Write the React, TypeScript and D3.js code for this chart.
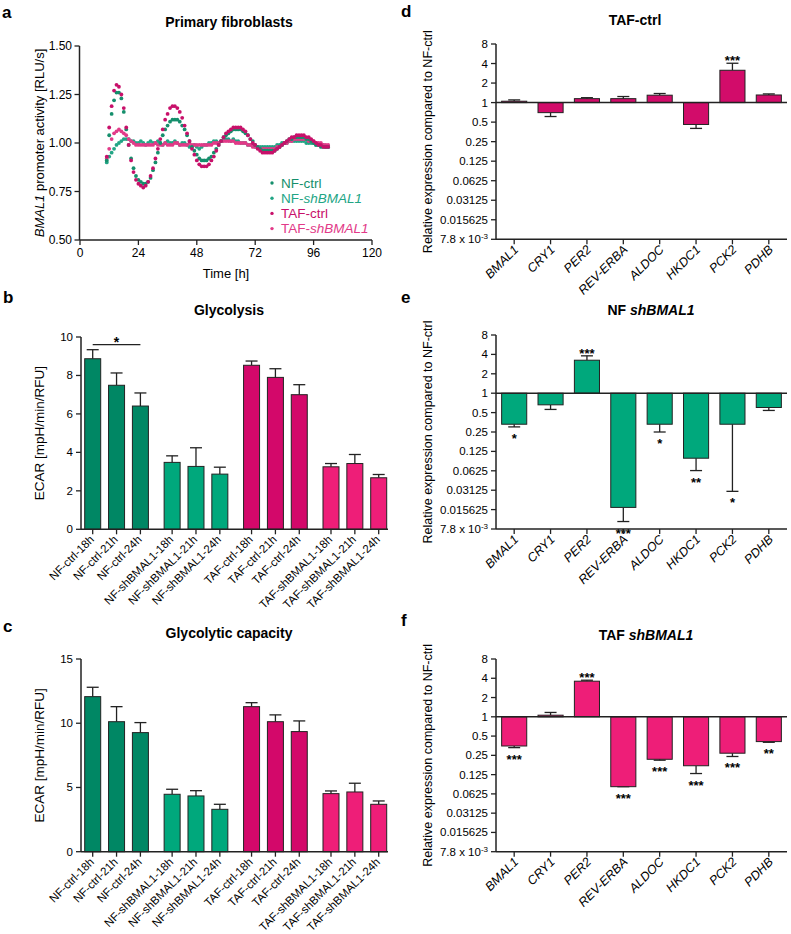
import React from "react";
import * as d3 from "d3";

const FONT = "'Liberation Sans', Arial, Helvetica, sans-serif";

// ---------- Panel a: bioluminescence time series (1 h sampling) ----------
const hours = d3.range(11, 103);
const nfCtrl = [
  0.91, 1.04, 1.15, 1.22, 1.26, 1.26, 1.23, 1.16, 1.07, 0.99,
  0.92, 0.87, 0.83, 0.81, 0.8, 0.79, 0.79, 0.8, 0.82, 0.86,
  0.9, 0.95, 1.0, 1.04, 1.07, 1.09, 1.11, 1.12, 1.12, 1.12,
  1.11, 1.09, 1.07, 1.04, 1.01, 0.98, 0.96, 0.94, 0.92, 0.91,
  0.91, 0.91, 0.92, 0.93, 0.95, 0.97, 0.99, 1.01, 1.03, 1.04,
  1.05, 1.06, 1.07, 1.07, 1.07, 1.07, 1.06, 1.05, 1.04, 1.02,
  1.01, 0.99, 0.98, 0.97, 0.96, 0.96, 0.96, 0.96, 0.96, 0.96,
  0.97, 0.98, 0.99, 1.0, 1.01, 1.02, 1.02, 1.03, 1.03, 1.03,
  1.03, 1.03, 1.02, 1.02, 1.01, 1.0, 0.99, 0.99, 0.98, 0.98,
  0.98, 0.98,
];
const nfSh = [
  0.9, 0.93, 0.95, 0.97, 0.99, 1.0, 1.01, 1.02, 1.02, 1.02,
  1.01, 1.01, 1.0, 1.0, 1.01, 1.0, 0.99, 1.0, 1.01, 1.0,
  1.0, 1.01, 1.0, 0.99, 1.0, 1.01, 1.0, 1.0, 1.01, 1.0,
  0.99, 1.0, 1.0, 0.99, 0.98, 0.98, 0.99, 0.98, 0.97, 0.98,
  0.99, 0.99, 1.0, 1.0, 1.01, 1.01, 1.0, 1.01, 1.02, 1.02,
  1.02, 1.01, 1.02, 1.01, 1.01, 1.0, 1.0, 1.0, 0.99, 0.99,
  0.99, 0.98, 0.98, 0.98, 0.98, 0.98, 0.98, 0.98, 0.98, 0.98,
  0.99, 0.99, 1.0, 1.0, 1.0, 1.01, 1.01, 1.01, 1.01, 1.01,
  1.01, 1.01, 1.0, 1.0, 1.0, 1.0, 0.99, 0.99, 0.99, 0.99,
  0.98, 0.98,
];
const tafCtrl = [
  0.93, 1.08, 1.19, 1.27, 1.3, 1.29, 1.25, 1.18, 1.08, 0.99,
  0.91, 0.85, 0.81, 0.79, 0.78, 0.77, 0.78, 0.8, 0.83, 0.87,
  0.92, 0.97, 1.02, 1.07, 1.12, 1.15, 1.18, 1.19, 1.19, 1.18,
  1.16, 1.13, 1.09, 1.05, 1.01, 0.97, 0.94, 0.91, 0.89, 0.88,
  0.88, 0.88, 0.89, 0.91, 0.93, 0.96, 0.99, 1.01, 1.03, 1.05,
  1.06, 1.07, 1.08, 1.08, 1.08, 1.08, 1.07, 1.06, 1.04, 1.02,
  1.0, 0.99, 0.97, 0.96, 0.95, 0.95, 0.95, 0.95, 0.95, 0.96,
  0.97, 0.98, 0.99, 1.0, 1.01, 1.02, 1.03, 1.03, 1.04, 1.04,
  1.04, 1.04, 1.03, 1.03, 1.02, 1.01, 1.0, 0.99, 0.99, 0.98,
  0.98, 0.98,
];
const tafSh = [
  0.92, 0.97, 1.02, 1.05, 1.06, 1.07, 1.06, 1.05, 1.04, 1.02,
  1.01, 1.0, 0.99, 0.99, 0.99, 0.99, 0.99, 0.99, 0.99, 0.99,
  1.0, 0.99, 0.99, 0.99, 1.0, 0.99, 0.99, 0.99, 1.0, 1.0,
  0.99, 0.99, 0.99, 0.99, 1.0, 0.99, 0.99, 0.99, 0.99, 0.99,
  0.99, 0.99, 0.99, 0.99, 1.0, 1.0, 1.0, 1.01, 1.01, 1.01,
  1.01, 1.01, 1.01, 1.0, 1.0, 1.0, 1.0, 1.0, 0.99, 0.99,
  0.98, 0.98, 0.98, 0.97, 0.97, 0.97, 0.97, 0.97, 0.97, 0.97,
  0.98, 0.98, 0.99, 1.0, 1.0, 1.01, 1.01, 1.02, 1.02, 1.02,
  1.02, 1.02, 1.02, 1.01, 1.01, 1.01, 1.0, 1.0, 1.0, 0.99,
  0.99, 0.99,
];
const seriesNames = ["NF-ctrl", "NF-shBMAL1", "TAF-ctrl", "TAF-shBMAL1"];
const seriesColors = ["#158f6c", "#22a585", "#c8106a", "#e23a88"];
const timeTicks = [0, 24, 48, 72, 96, 120];
const activityTicks = [0.5, 0.75, 1.0, 1.25, 1.5];

// ---------- Panels b, c: ECAR bars ----------
const barLabels = [
  "NF-ctrl-18h", "NF-ctrl-21h", "NF-ctrl-24h",
  "NF-shBMAL1-18h", "NF-shBMAL1-21h", "NF-shBMAL1-24h",
  "TAF-ctrl-18h", "TAF-ctrl-21h", "TAF-ctrl-24h",
  "TAF-shBMAL1-18h", "TAF-shBMAL1-21h", "TAF-shBMAL1-24h",
];
const barGroup = [0, 0, 0, 1, 1, 1, 2, 2, 2, 3, 3, 3];
const groupColors = ["#008764", "#00a87c", "#d3086a", "#ee1e78"];
const glycolysisMean = [8.87, 7.49, 6.41, 3.48, 3.27, 2.87, 8.53, 7.9, 7.0, 3.25, 3.42, 2.68];
const glycolysisSem = [0.47, 0.64, 0.68, 0.34, 0.97, 0.36, 0.22, 0.45, 0.52, 0.17, 0.47, 0.17];
const glycolysisTicks = [0, 2, 4, 6, 8, 10];
const capacityMean = [12.07, 10.12, 9.27, 4.47, 4.34, 3.3, 11.29, 10.12, 9.35, 4.52, 4.65, 3.69];
const capacitySem = [0.73, 1.17, 0.78, 0.39, 0.41, 0.39, 0.31, 0.53, 0.83, 0.21, 0.68, 0.26];
const capacityTicks = [0, 5, 10, 15];

// ---------- Panels d, e, f: qPCR fold change (log2) ----------
const genes = ["BMAL1", "CRY1", "PER2", "REV-ERBA", "ALDOC", "HKDC1", "PCK2", "PDHB"];
const tafCtrlFold = [1.05, 0.7, 1.15, 1.15, 1.3, 0.46, 3.15, 1.31];
const tafCtrlErr = [1.1, 0.61, 1.19, 1.24, 1.38, 0.4, 4.04, 1.36];
const tafCtrlSig = ["", "", "", "", "", "", "***", ""];
const nfShFold = [0.33, 0.66, 3.25, 0.0169, 0.33, 0.098, 0.33, 0.6];
const nfShErr = [0.3, 0.56, 3.8, 0.0102, 0.25, 0.063, 0.03, 0.54];
const nfShSig = ["*", "", "***", "***", "*", "**", "*", ""];
const tafShFold = [0.35, 1.06, 3.6, 0.081, 0.217, 0.172, 0.27, 0.41];
const tafShErr = [0.33, 1.17, 3.73, 0.081, 0.21, 0.13, 0.24, 0.4];
const tafShSig = ["***", "", "***", "***", "***", "***", "***", "**"];
const foldTicks = [8, 4, 2, 1, 0.5, 0.25, 0.125, 0.0625, 0.03125, 0.015625, 0.0078125];
const foldTickLabels = ["8", "4", "2", "1", "0.5", "0.25", "0.125", "0.0625", "0.03125", "0.015625", "7.8 x 10"];

const INK = "#222";

function ScatterPanel() {
  const x = d3.scaleLinear().domain([0, 120]).range([80, 372]);
  const y = d3.scaleLinear().domain([0.5, 1.5]).range([240, 46]);
  const all = [nfSh, tafSh, nfCtrl, tafCtrl];
  const colorIdx = [1, 3, 0, 2];
  return (
    <g>
      <text x={2} y={18} fontSize={17} fontWeight="bold">a</text>
      <text x={229} y={27} fontSize={14} fontWeight="bold" textAnchor="middle">Primary fibroblasts</text>
      {all.map((vals, s) =>
        vals.map((v, i) => (
          <circle key={s + "-" + i} cx={x(hours[i])} cy={y(v)} r={1.9} fill={seriesColors[colorIdx[s]]} />
        ))
      )}
      <line x1={79.5} x2={79.5} y1={y(1.5)} y2={y(0.5)} stroke={INK} strokeWidth={1.5} />
      <line x1={79.5} x2={x(120)} y1={y(0.5)} y2={y(0.5)} stroke={INK} strokeWidth={1.5} />
      {activityTicks.map((t) => (
        <g key={t}>
          <line x1={74.5} x2={79.5} y1={y(t)} y2={y(t)} stroke={INK} strokeWidth={1.3} />
          <text x={72} y={y(t)} dy="0.35em" fontSize={12} textAnchor="end">{t.toFixed(2)}</text>
        </g>
      ))}
      {timeTicks.map((t) => (
        <g key={t}>
          <line x1={x(t)} x2={x(t)} y1={240} y2={245} stroke={INK} strokeWidth={1.3} />
          <text x={x(t)} y={257} fontSize={12} textAnchor="middle">{t}</text>
        </g>
      ))}
      <text x={226} y={278} fontSize={13} textAnchor="middle">Time [h]</text>
      <text transform={`translate(44,${(y(1.5) + y(0.5)) / 2}) rotate(-90)`} fontSize={13} textAnchor="middle">
        <tspan fontStyle="italic">BMAL1</tspan> promoter activity [RLU/s]
      </text>
      {seriesNames.map((n, i) => {
        const yy = 183 + i * 15.2;
        const italic = n.includes("sh");
        const [pre, post] = italic ? n.split("sh") : [n, ""];
        return (
          <g key={n}>
            <circle cx={272} cy={yy} r={1.7} fill={seriesColors[i]} />
            <text x={281} y={yy} dy="0.36em" fontSize={13.5} fill={seriesColors[i]}>
              {pre}
              {italic && <tspan fontStyle="italic">{"sh" + post}</tspan>}
            </text>
          </g>
        );
      })}
    </g>
  );
}

function BarPanel(props: {
  letter: string; letterY: number; title: string; titleY: number;
  yTop: number; yBottom: number; yMax: number; ticks: number[];
  means: number[]; sems: number[]; bracket?: { from: number; to: number; value: number; label: string };
}) {
  const gap = 0.33;
  const slot = (i: number) => i + barGroup[i] * gap;
  const x = d3.scaleLinear().domain([0, 11 + 3 * gap]).range([92.7, 378.7]);
  const y = d3.scaleLinear().domain([0, props.yMax]).range([props.yBottom, props.yTop]);
  const bw = 16;
  const axisX = 81;
  return (
    <g>
      <text x={3} y={props.letterY} fontSize={17} fontWeight="bold">{props.letter}</text>
      <text x={229} y={props.titleY} fontSize={14} fontWeight="bold" textAnchor="middle">{props.title}</text>
      {props.means.map((m, i) => {
        const cx = x(slot(i));
        const errY = y(m + props.sems[i]);
        return (
          <g key={i}>
            <line x1={cx} x2={cx} y1={y(m)} y2={errY} stroke={INK} strokeWidth={1.3} />
            <line x1={cx - 6} x2={cx + 6} y1={errY} y2={errY} stroke={INK} strokeWidth={1.3} />
            <rect x={cx - bw / 2} y={y(m)} width={bw} height={y(0) - y(m)} fill={groupColors[barGroup[i]]} stroke={INK} strokeWidth={1} />
          </g>
        );
      })}
      {props.bracket && (
        <g>
          <line x1={x(slot(props.bracket.from))} x2={x(slot(props.bracket.to))} y1={y(props.bracket.value)} y2={y(props.bracket.value)} stroke={INK} strokeWidth={1.2} />
          <text x={(x(slot(props.bracket.from)) + x(slot(props.bracket.to))) / 2} y={y(props.bracket.value) + 2.5} fontSize={14} fontWeight="bold" textAnchor="middle">{props.bracket.label}</text>
        </g>
      )}
      <line x1={axisX} x2={axisX} y1={props.yTop} y2={props.yBottom} stroke={INK} strokeWidth={1.5} />
      <line x1={axisX} x2={388} y1={props.yBottom} y2={props.yBottom} stroke={INK} strokeWidth={1.5} />
      {props.ticks.map((t) => (
        <g key={t}>
          <line x1={axisX - 5} x2={axisX} y1={y(t)} y2={y(t)} stroke={INK} strokeWidth={1.3} />
          <text x={axisX - 8} y={y(t)} dy="0.35em" fontSize={11.5} textAnchor="end">{t}</text>
        </g>
      ))}
      {barLabels.map((lab, i) => {
        const cx = x(slot(i));
        return (
          <g key={lab}>
            <line x1={cx} x2={cx} y1={props.yBottom} y2={props.yBottom + 5} stroke={INK} strokeWidth={1.3} />
            <text transform={`translate(${cx + 2},${props.yBottom + 11}) rotate(-45)`} fontSize={11.5} textAnchor="end">{lab}</text>
          </g>
        );
      })}
      <text transform={`translate(44,${(props.yTop + props.yBottom) / 2}) rotate(-90)`} fontSize={13.5} textAnchor="middle">ECAR [mpH/min/RFU]</text>
    </g>
  );
}

function LogPanel(props: {
  letter: string; letterY: number; titlePre: string; titleItalic: string; titleX: number; titleY: number;
  yTop: number; yBottom: number; fold: number[]; err: number[]; sig: string[]; color: string;
}) {
  const x = d3.scaleBand<string>().domain(genes).range([496, 787]).paddingInner(0.31).paddingOuter(0.155);
  const y = d3.scaleLog().base(2).domain([0.0078125, 8]).range([props.yBottom, props.yTop]);
  const axisX = 496;
  const bw = x.bandwidth();
  return (
    <g>
      <text x={401} y={props.letterY} fontSize={17} fontWeight="bold">{props.letter}</text>
      <text x={props.titleX} y={props.titleY} fontSize={14} fontWeight="bold" textAnchor="middle">
        {props.titlePre}
        {props.titleItalic && <tspan fontStyle="italic">{props.titleItalic}</tspan>}
      </text>
      {props.fold.map((v, i) => {
        const g = genes[i];
        const cx = (x(g) as number) + bw / 2;
        const y1 = y(1);
        const yv = y(v);
        const ye = y(props.err[i]);
        const up = v >= 1;
        const s = props.sig[i];
        return (
          <g key={g}>
            <line x1={cx} x2={cx} y1={yv} y2={ye} stroke={INK} strokeWidth={1.3} />
            <line x1={cx - 6} x2={cx + 6} y1={ye} y2={ye} stroke={INK} strokeWidth={1.3} />
            <rect x={cx - bw / 2} y={Math.min(y1, yv)} width={bw} height={Math.abs(yv - y1)} fill={props.color} stroke={INK} strokeWidth={1} />
            {s && (
              <text x={cx} y={up ? Math.min(ye, yv) + 2 : Math.max(ye, yv) + 16} fontSize={13} fontWeight="bold" textAnchor="middle">{s}</text>
            )}
          </g>
        );
      })}
      <line x1={axisX} x2={787} y1={y(1)} y2={y(1)} stroke={INK} strokeWidth={1.5} />
      <line x1={axisX} x2={axisX} y1={props.yTop} y2={props.yBottom} stroke={INK} strokeWidth={1.5} />
      <line x1={axisX} x2={787} y1={props.yBottom} y2={props.yBottom} stroke={INK} strokeWidth={1.5} />
      {foldTicks.map((t, i) => (
        <g key={t}>
          <line x1={axisX - 5} x2={axisX} y1={y(t)} y2={y(t)} stroke={INK} strokeWidth={1.3} />
          <text x={axisX - 8} y={y(t)} dy="0.35em" fontSize={11.5} textAnchor="end">
            {foldTickLabels[i]}
            {i === foldTicks.length - 1 && <tspan dy={-4} fontSize={8}>-3</tspan>}
          </text>
        </g>
      ))}
      {genes.map((g) => {
        const cx = (x(g) as number) + bw / 2;
        return (
          <g key={g}>
            <line x1={cx} x2={cx} y1={props.yBottom} y2={props.yBottom + 5} stroke={INK} strokeWidth={1.3} />
            <text transform={`translate(${cx + 5},${props.yBottom + 11}) rotate(-45)`} fontSize={12.5} fontStyle="italic" textAnchor="end">{g}</text>
          </g>
        );
      })}
      <text transform={`translate(432,${(props.yTop + props.yBottom) / 2}) rotate(-90)`} fontSize={12.5} textAnchor="middle">Relative expression compared to NF-ctrl</text>
    </g>
  );
}

export default function App() {
  return (
    <svg width={791} height={934} style={{ position: "absolute", left: 0, top: 0, background: "#fff" }} fontFamily={FONT}>
      <rect width={791} height={934} fill="#fff" />
      <ScatterPanel />
      <BarPanel letter="b" letterY={303} title="Glycolysis" titleY={315} yTop={337} yBottom={529.3} yMax={10}
        ticks={glycolysisTicks} means={glycolysisMean} sems={glycolysisSem}
        bracket={{ from: 0, to: 2, value: 9.6, label: "*" }} />
      <BarPanel letter="c" letterY={632} title="Glycolytic capacity" titleY={638} yTop={659} yBottom={851.7} yMax={15}
        ticks={capacityTicks} means={capacityMean} sems={capacitySem} />
      <LogPanel letter="d" letterY={17} titlePre="TAF-ctrl" titleItalic="" titleX={635} titleY={25}
        yTop={44} yBottom={239.3} fold={tafCtrlFold} err={tafCtrlErr} sig={tafCtrlSig} color="#d20c6a" />
      <LogPanel letter="e" letterY={303} titlePre="NF " titleItalic="shBMAL1" titleX={651} titleY={315}
        yTop={335} yBottom={529} fold={nfShFold} err={nfShErr} sig={nfShSig} color="#00a87c" />
      <LogPanel letter="f" letterY={626} titlePre="TAF " titleItalic="shBMAL1" titleX={646} titleY={640}
        yTop={659} yBottom={851.7} fold={tafShFold} err={tafShErr} sig={tafShSig} color="#ee1e78" />
    </svg>
  );
}
